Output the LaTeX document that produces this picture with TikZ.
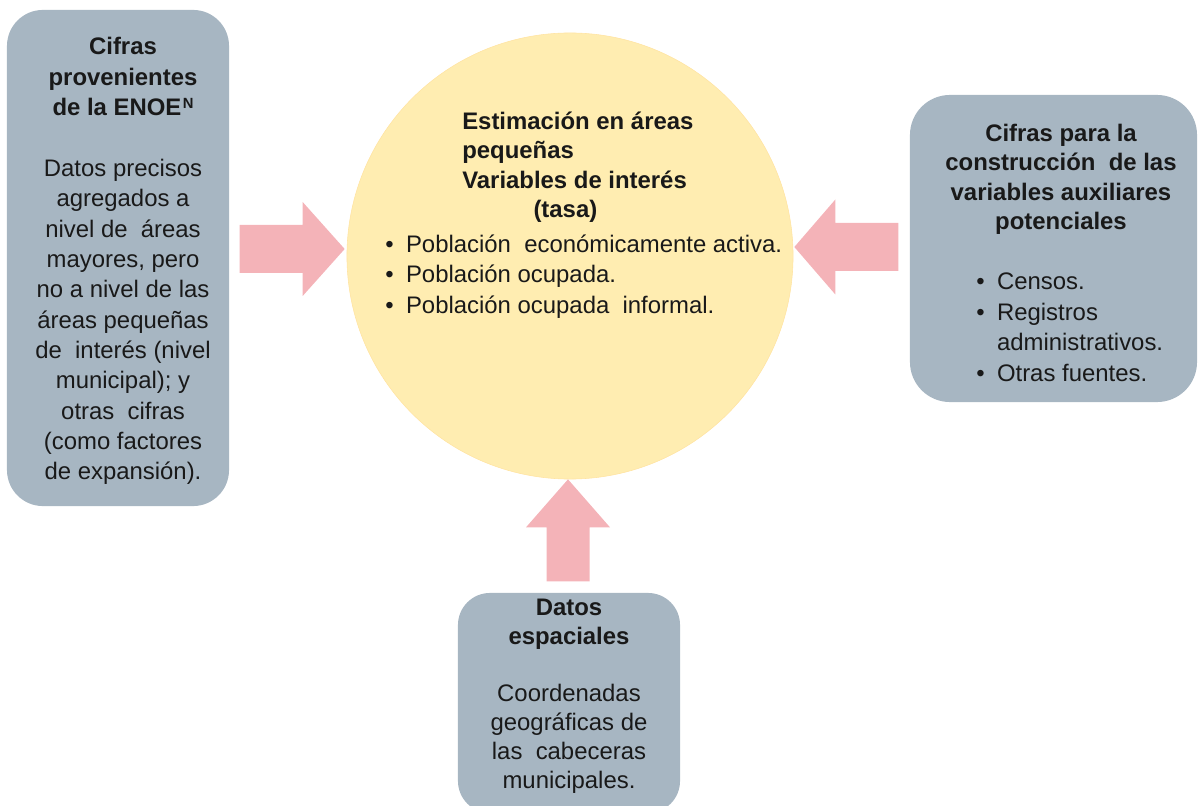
\documentclass[tikz,border=0pt]{standalone}
\usepackage{fontspec}
\setmainfont{Liberation Sans}
\usepackage{xcolor}

\definecolor{cajagris}{HTML}{A7B6C2}
\definecolor{amarillo}{HTML}{FFEDB1}
\definecolor{rosa}{HTML}{F4B3B8}

\tikzset{
	caja/.style={fill=cajagris, rounded corners=0.9cm, inner sep=0pt},
	texto/.style={font=\fontsize{17}{21.6}\selectfont, align=center, inner sep=0pt, text=black!90},
	titulo/.style={texto, font=\bfseries\fontsize{17}{21}\selectfont},
	lista/.style={font=\fontsize{17}{21.6}\selectfont, inner sep=0pt, anchor=base west, text=black!90}
}

\begin{document}
\begin{tikzpicture}[x=0.025cm, y=-0.025cm]
\useasboundingbox (0,0) rectangle (1199,806);

\node [caja, minimum width=5.55cm, minimum height=12.4cm] at (118,258) (enoe) {};
	\node [caja, minimum width=7.175cm, minimum height=7.675cm, rounded corners=1cm] at (1053.5,248.5) (aux) {};
	\node [caja, minimum width=5.55cm, minimum height=5.5cm, rounded corners=0.8cm] at (569,703) (esp) {};
	\node [circle, fill=amarillo, draw=amarillo!92!orange, line width=0.4pt, minimum size=11.15cm, inner sep=0pt] at (570,256) (est) {};

% flechas hacia el circulo
\foreach \anc/\dir/\dx/\dy/\len/\sw/\hw/\hl in {
		west/0/-2/-7/105/24/47/42,
		east/180/1/-9/104/24/47.5/41,
		south/90/-2/0/102/21.5/42/48
	}
	{
		\fill [rosa, shift={([shift={(\dx,\dy)}]est.\anc)}, rotate=\dir]
			(0,0) -- (-\hl,\hw) -- (-\hl,\sw) -- (-\len,\sw) -- (-\len,-\sw) -- (-\hl,-\sw) -- (-\hl,-\hw) -- cycle;
	}

% textos (base = ultima linea)
\node [texto, anchor=base] at (123,480) (enoeTexto) {\textbf{Cifras}\\\textbf{provenientes}\\\textbf{de la ENOE\hspace{1pt}\raisebox{4.7pt}{\fontsize{10.5}{10.5}\selectfont N}}\\[21.6pt]Datos precisos\\agregados a\\nivel de\ \ áreas\\mayores, pero\\no a nivel de las\\áreas pequeñas\\de\ \ interés (nivel\\municipal); y\\otras\ \ cifras\\(como factores\\de expansión).};

	\node [titulo, anchor=base] at (1061,230) (auxTitulo) {Cifras para la\\construcción\ \ de las\\variables auxiliares\\potenciales};
	\node [lista] at (976,290) (auxLista) {\begin{tabular}[t]{@{}l@{\hspace{0.31cm}}l@{}}
		\textbullet & Censos.\\
		\textbullet & Registros\\
		 & administrativos.\\
		\textbullet & Otras fuentes.
	\end{tabular}};

	\node [titulo, align=left, anchor=base west] at (462,218) (estTitulo) {Estimación en áreas\\pequeñas\\Variables de interés\\\hspace*{1.78cm}(tasa)};
	\node [lista] at (385,252.5) (estLista) {\begin{tabular}[t]{@{}l@{\hspace{0.31cm}}l@{}}
		\textbullet & Población\ \ económicamente activa.\\
		\textbullet & Población ocupada.\\
		\textbullet & Población ocupada\ \ informal.
	\end{tabular}};

	\node [texto, font=\fontsize{17}{20.4}\selectfont, anchor=base] at (569,788) (espTexto) {\textbf{Datos}\\\textbf{espaciales}\\[20.4pt]Coordenadas\\geográficas de\\las\ \ cabeceras\\municipales.};

\end{tikzpicture}
\end{document}
